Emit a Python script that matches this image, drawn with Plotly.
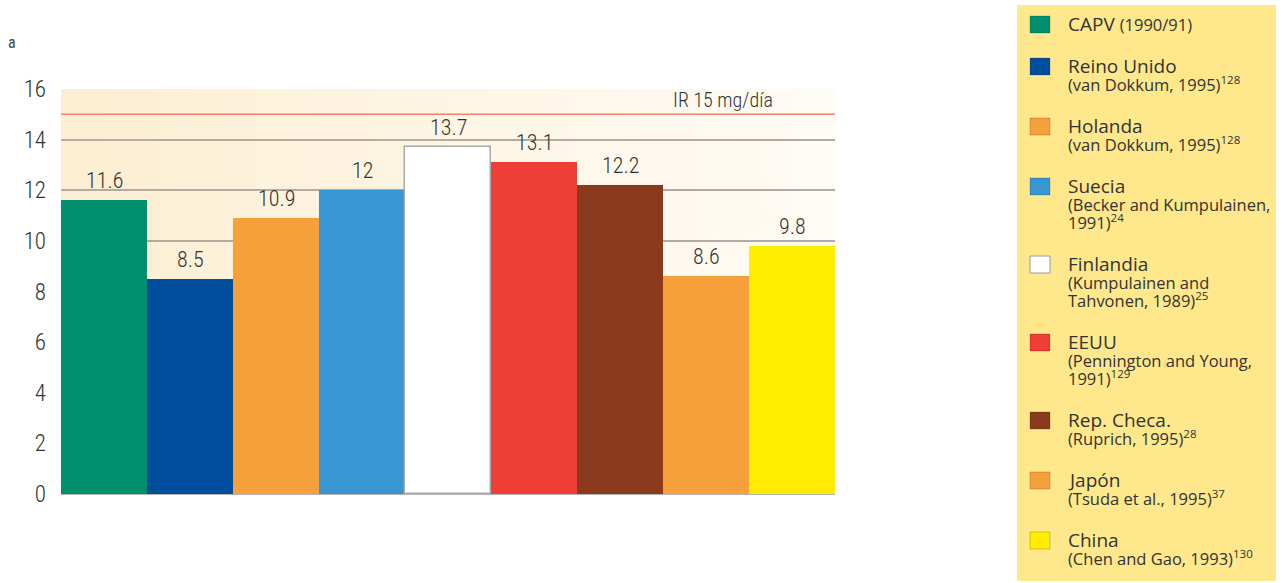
import plotly.graph_objects as go

# --- data -------------------------------------------------------------
countries = ["CAPV", "Reino Unido", "Holanda", "Suecia", "Finlandia",
             "EEUU", "Rep. Checa.", "Japón", "China"]
values = [11.6, 8.5, 10.9, 12, 13.7, 13.1, 12.2, 8.6, 9.8]
bar_colors = ["#00906E", "#004F9F", "#F6A03B", "#3896D3", "#FFFFFF",
              "#EE3E35", "#8C3A1E", "#F6A03B", "#FFEC00"]
# reference lines printed under each legend name
sources = [
    ["(1990/91)"],
    ["(van Dokkum, 1995)<sup>128</sup>"],
    ["(van Dokkum, 1995)<sup>128</sup>"],
    ["(Becker and Kumpulainen,", "1991)<sup>24</sup>"],
    ["(Kumpulainen and", "Tahvonen, 1989)<sup>25</sup>"],
    ["(Pennington and Young,", "1991)<sup>129</sup>"],
    ["(Ruprich, 1995)<sup>28</sup>"],
    ["(Tsuda et al., 1995)<sup>37</sup>"],
    ["(Chen and Gao, 1993)<sup>130</sup>"],
]
source_inline = [True, False, False, False, False, False, False, False, False]
y_ticks = [0, 2, 4, 6, 8, 10, 12, 14, 16]
ir_value = 15
ir_label = "IR 15 mg/día"

# --- geometry ---------------------------------------------------------
W, H = 1286, 583
PL, PR, PT, PB = 61, 835, 89, 494


def px_x(px):
    return (px - PL) / (PR - PL)


def px_y(py):
    return (PB - py) / (PB - PT)


NARROW = "Roboto Condensed, DejaVu Sans Condensed, sans-serif"
SANS = "Open Sans"
TXT = "#333333"
NW = 350  # weight of the condensed labels

fig = go.Figure()
fig.add_trace(go.Bar(
    x=countries, y=values,
    marker=dict(color=bar_colors,
                line=dict(color=["#A9A9A9" if c == "#FFFFFF" else c for c in bar_colors],
                          width=[1.5 if c == "#FFFFFF" else 0 for c in bar_colors])),
    showlegend=False, hoverinfo="x+y",
))

shapes = []
annotations = []

# cream-to-white background behind the bars
n_strips = 40
c0, c1 = (252, 238, 210), (255, 252, 246)
for i in range(n_strips):
    t = i / (n_strips - 1)
    col = tuple(round(a + (b - a) * t) for a, b in zip(c0, c1))
    shapes.append(dict(type="rect", xref="paper", yref="y",
                       x0=i / n_strips, x1=(i + 1) / n_strips + 0.002,
                       y0=0, y1=16, fillcolor="rgb(%d,%d,%d)" % col,
                       line=dict(width=0), layer="below"))

# recommended intake line
shapes.append(dict(type="line", xref="paper", yref="y", x0=0, x1=1,
                   y0=ir_value, y1=ir_value,
                   line=dict(color="#F2806F", width=1.5), layer="above"))
annotations.append(dict(text=ir_label, xref="paper", yref="y",
                        x=px_x(723), y=ir_value, xanchor="center", yanchor="bottom",
                        showarrow=False,
                        font=dict(family=NARROW, size=20, color=TXT, weight=NW)))

# value labels above the bars
for c, v in zip(countries, values):
    annotations.append(dict(text=f"{v:g}", xref="x", yref="y", x=c, y=v,
                            xanchor="center", yanchor="bottom", yshift=5,
                            showarrow=False,
                            font=dict(family=NARROW, size=22, color=TXT, weight=NW)))

# stray axis-title fragment, top left
annotations.append(dict(text="a", xref="paper", yref="paper", x=px_x(12), y=px_y(42),
                        xanchor="center", yanchor="middle", showarrow=False,
                        font=dict(family=NARROW, size=16, color="#444444")))

# legend panel
shapes.append(dict(type="rect", xref="paper", yref="paper",
                   x0=px_x(1017), x1=px_x(1276), y0=px_y(581), y1=px_y(5),
                   fillcolor="#FEE88B", line=dict(width=0), layer="below"))

baseline = 32
MAIN, SUB, LINE, GAP = 19, 16.5, 18, 24
for name, col, src, inline in zip(countries, bar_colors, sources, source_inline):
    edge = "#9A9A9A" if col == "#FFFFFF" else "rgba(0,0,0,0.18)"
    shapes.append(dict(type="rect", xref="paper", yref="paper",
                       x0=px_x(1030), x1=px_x(1050),
                       y0=px_y(baseline + 1), y1=px_y(baseline - 16),
                       fillcolor=col, line=dict(color=edge, width=1)))
    if inline:
        main_text = f"{name} <span style='font-size:{SUB}px'>{src[0]}</span>"
        sub_lines = []
    else:
        main_text = name
        sub_lines = src
    annotations.append(dict(text=main_text, xref="paper", yref="paper",
                            x=px_x(1066), y=px_y(baseline + 1 + 0.293 * MAIN),
                            xanchor="left", yanchor="bottom", showarrow=False,
                            font=dict(family=SANS, size=MAIN, color=TXT)))
    for k, line in enumerate(sub_lines, start=1):
        bl = baseline + LINE * k
        annotations.append(dict(text=line, xref="paper", yref="paper",
                                x=px_x(1066), y=px_y(bl + 1 + 0.293 * SUB),
                                xanchor="left", yanchor="bottom", showarrow=False,
                                font=dict(family=SANS, size=SUB, color=TXT)))
    baseline += GAP + LINE * (1 + len(sub_lines))

fig.update_layout(
    width=W, height=H,
    margin=dict(l=PL, r=W - PR, t=PT, b=H - PB),
    paper_bgcolor="white", plot_bgcolor="white",
    bargap=0, showlegend=False,
    shapes=shapes, annotations=annotations,
    xaxis=dict(showticklabels=False, showgrid=False, zeroline=False,
               showline=True, linecolor="#B5B5B5", linewidth=1, ticks=""),
    yaxis=dict(range=[0, 16], tickvals=y_ticks, showgrid=True,
               gridcolor="#B4AD9F", gridwidth=2, zeroline=False, showline=False,
               ticks="", ticklabelstandoff=14,
               tickfont=dict(family=NARROW, size=23, color=TXT, weight=NW)),
)

fig.write_html("out.html")
